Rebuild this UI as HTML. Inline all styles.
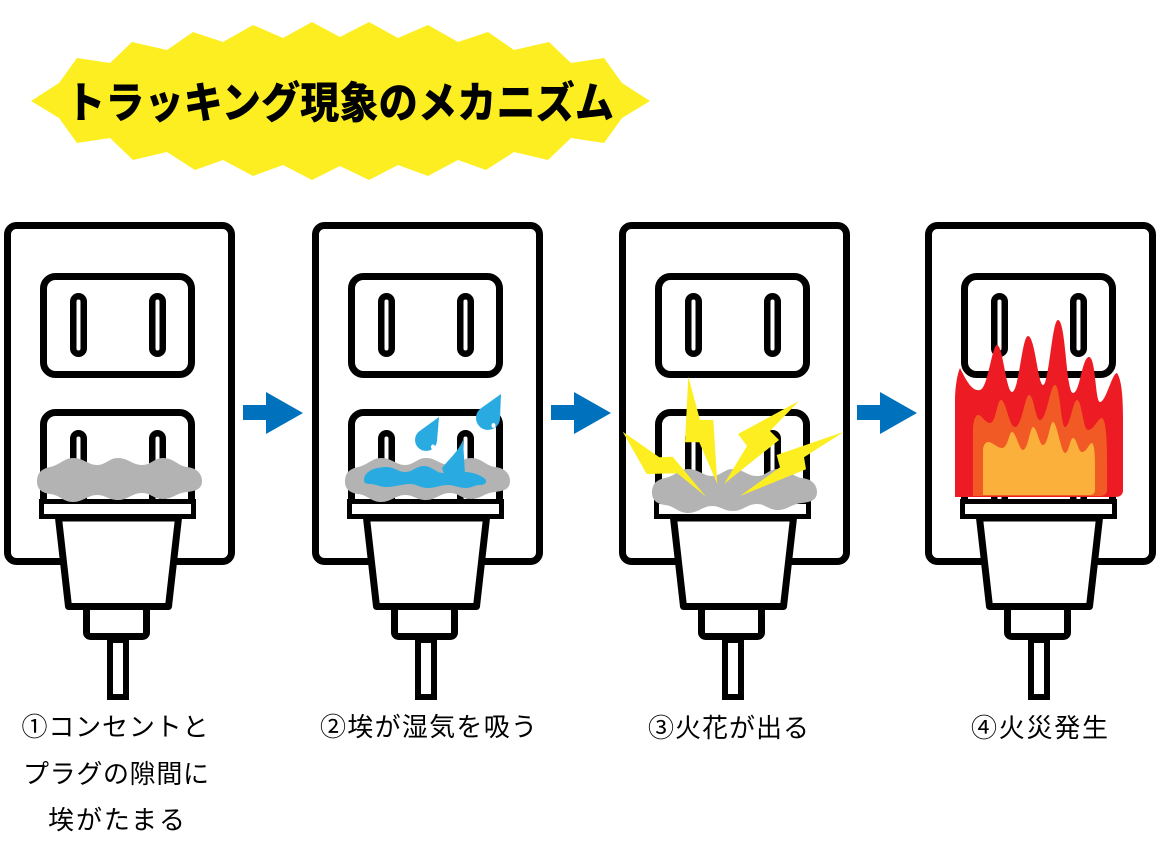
<!DOCTYPE html>
<html><head><meta charset="utf-8">
<style>
html,body{margin:0;padding:0;background:#fff;}
svg{display:block;}
</style></head>
<body>
<svg width="1163" height="853" viewBox="0 0 1163 853" xmlns="http://www.w3.org/2000/svg">
<defs>
  <g id="outlet">
    <rect x="7.5" y="225.5" width="224" height="336" rx="9" fill="#fff" stroke="#000" stroke-width="7"/>
    <rect x="43.5" y="276.5" width="148" height="98" rx="12" fill="#fff" stroke="#000" stroke-width="7"/>
    <rect x="73.25" y="296.25" width="10.5" height="57.5" rx="5.25" fill="#fff" stroke="#000" stroke-width="6.5"/>
    <rect x="152.25" y="296.25" width="10.5" height="57.5" rx="5.25" fill="#fff" stroke="#000" stroke-width="6.5"/>
    <rect x="43.5" y="412.5" width="148" height="100" rx="12" fill="#fff" stroke="#000" stroke-width="7"/>
    <rect x="73.25" y="433.25" width="10.5" height="70" rx="5.25" fill="#fff" stroke="#000" stroke-width="6.5"/>
    <rect x="152.25" y="433.25" width="10.5" height="70" rx="5.25" fill="#fff" stroke="#000" stroke-width="6.5"/>
    <rect x="41.5" y="501.5" width="152" height="15" fill="#fff" stroke="#000" stroke-width="5"/>
    <polygon points="58.5,518 178.5,518 168.5,606.5 68.5,606.5" fill="#fff" stroke="#000" stroke-width="7" stroke-linejoin="round"/>
    <rect x="86.5" y="606.5" width="60" height="30" rx="4" fill="#fff" stroke="#000" stroke-width="7"/>
    <rect x="110" y="640" width="16" height="57" fill="#fff" stroke="#000" stroke-width="6"/>
  </g>
  <path id="dust" fill="#b3b3b3" d="M 37,482 C 37,472 42,469 50,467 C 60,465 64,458 73,458 C 84,458 88,465 97,465 C 106,465 109,458 118,458 C 128,458 132,465 142,465 C 151,465 154,458 163,458 C 174,458 178,466 187,467 C 197,468 202,474 202,481 C 202,489 196,491 187,492 C 176,493 173,499 163,499 C 153,499 151,493 142,493 C 132,493 128,500 118,500 C 108,500 106,495 97,495 C 88,495 83,502 73,502 C 63,502 60,495 50,494 C 42,493 37,489 37,482 Z"/>
  <polygon id="arrow" fill="#0071bc" points="243,405 266,405 266,392 303,413 266,434 266,420 243,420"/>
</defs>

<!-- Title burst -->
<polygon fill="#fcee21" points="31,101 59,83 77,58 110,63 132,42 167,50 193,32 223,42 253,25 283,38 312,22 340,37 369,22 398,38 428,25 458,42 488,32 514,50 549,42 571,63 604,58 622,83 650,101 622,118 604,143 571,138 548,160 514,152 486,170 458,160 428,176 398,165 369,180 340,166 312,180 283,165 253,176 223,160 195,170 167,152 133,160 110,138 77,143 59,118"/>
<text x="66" y="118" font-size="43" font-weight="900" font-family="'Liberation Sans','Noto Sans CJK JP',sans-serif" fill="#000" textLength="548" lengthAdjust="spacingAndGlyphs">トラッキング現象のメカニズム</text>

<!-- Outlets -->
<use href="#outlet"/>
<use href="#outlet" transform="translate(308,0)"/>
<use href="#outlet" transform="translate(615,0)"/>
<use href="#outlet" transform="translate(921,0)"/>

<!-- Dust -->
<use href="#dust"/>
<use href="#dust" transform="translate(308,0)"/>
<use href="#dust" transform="translate(615,11)"/>

<!-- Water (outlet 2) -->
<g fill="#29abe2">
  <path d="M 364,480 C 364,470 378,467 386,467 C 395,467 398,472 405,472 C 413,472 416,466 424,466 C 432,466 436,473 443,473 L 465,472 C 472,472 480,475 484,478 C 488,481 486,485 480,485 C 474,485 472,488 466,488 C 458,488 455,485 448,485 C 440,485 436,488 428,488 C 420,488 417,484 410,484 C 402,484 395,487 387,487 C 379,487 376,484 370,484 C 366,484 364,483 364,480 Z"/>
  <path d="M 463,440 C 458,452 449,459 442,468 L 444,474 L 465,474 Z"/>
  <path d="M 439,417 L 437,441 A 11 11 0 1 1 419.5,431.1 Z"/>
  <path d="M 501,394 L 500,418.5 A 12 12 0 1 1 481,408.2 Z"/>
</g>
<ellipse cx="433" cy="447" rx="2" ry="2.5" fill="#fff"/>
<ellipse cx="493.5" cy="425.5" rx="2" ry="2.5" fill="#fff"/>

<!-- Sparks (outlet 3) -->
<g fill="#fcee21">
  <polygon points="688.3,376.7 700,420 713.3,420 717.3,484 699.3,442.3 685,442.3"/>
  <polygon points="622.7,431.7 659.3,457.3 672.7,456.7 706,496.7 677.3,473.3 646.7,474"/>
  <polygon points="799,401 738,434 747,446 724,484 779,440 770,431"/>
  <polygon points="844,431.7 776.7,455 780,467.3 740,496 806,469.3 804,457.3"/>
</g>

<!-- Flames (outlet 4) -->
<path fill="#ed1c24" d="M 955,497 L 955,400 C 955,385 958,372 960,368 C 966,380 972,392 980,390 C 988,388 992,345 997,345 C 1003,345 1006,392 1012,392 C 1019,392 1022,336 1028,336 C 1035,336 1038,385 1043,385 C 1049,385 1052,320 1058,320 C 1066,320 1066,393 1073,393 C 1080,393 1082,357 1089,357 C 1096,357 1095,402 1100,402 C 1106,402 1112,373 1117,373 C 1122,380 1123,400 1123,420 L 1123,490 C 1123,495 1120,497 1115,497 Z"/>
<path fill="#f15a24" d="M 973,496 L 973,430 C 973,420 976,415 978,415 C 982,415 985,423 990,423 C 996,423 997,400 1001,400 C 1006,400 1009,427 1015,427 C 1022,427 1025,395 1029,395 C 1034,395 1035,420 1040,420 C 1047,420 1050,385 1055,385 C 1060,385 1061,427 1065,427 C 1070,427 1073,400 1077,400 C 1082,400 1083,430 1088,430 C 1094,430 1098,418 1102,418 C 1106,420 1107,440 1107,460 L 1107,490 C 1107,494 1104,496 1100,496 Z"/>
<path fill="#fbb03b" d="M 983,495 L 983,450 C 983,445 986,442 988,442 C 993,442 997,448 1002,448 C 1008,448 1009,432 1012,432 C 1016,432 1019,450 1023,450 C 1028,450 1030,427 1033,427 C 1037,427 1039,445 1043,445 C 1048,445 1050,422 1053,422 C 1057,422 1061,453 1065,453 C 1069,453 1070,438 1073,438 C 1077,438 1078,452 1082,452 C 1087,452 1089,443 1092,443 C 1095,445 1095,460 1095,470 L 1095,490 C 1095,493 1093,495 1090,495 Z"/>

<!-- Arrows -->
<use href="#arrow"/>
<use href="#arrow" transform="translate(308,0)"/>
<use href="#arrow" transform="translate(614,0)"/>

<!-- Labels -->
<g font-size="26" font-family="'Liberation Sans','Noto Sans CJK JP',sans-serif" fill="#000">
  <text x="21.5" y="736" textLength="187" lengthAdjust="spacing">①コンセントと</text>
  <text x="23" y="783" textLength="186" lengthAdjust="spacing">プラグの隙間に</text>
  <text x="48" y="829" textLength="137" lengthAdjust="spacing">埃がたまる</text>
  <text x="320" y="736" textLength="217" lengthAdjust="spacing">②埃が湿気を吸う</text>
  <text x="648" y="737" textLength="161" lengthAdjust="spacing">③火花が出る</text>
  <text x="971" y="737" textLength="137" lengthAdjust="spacing">④火災発生</text>
</g>
</svg>
</body></html>
